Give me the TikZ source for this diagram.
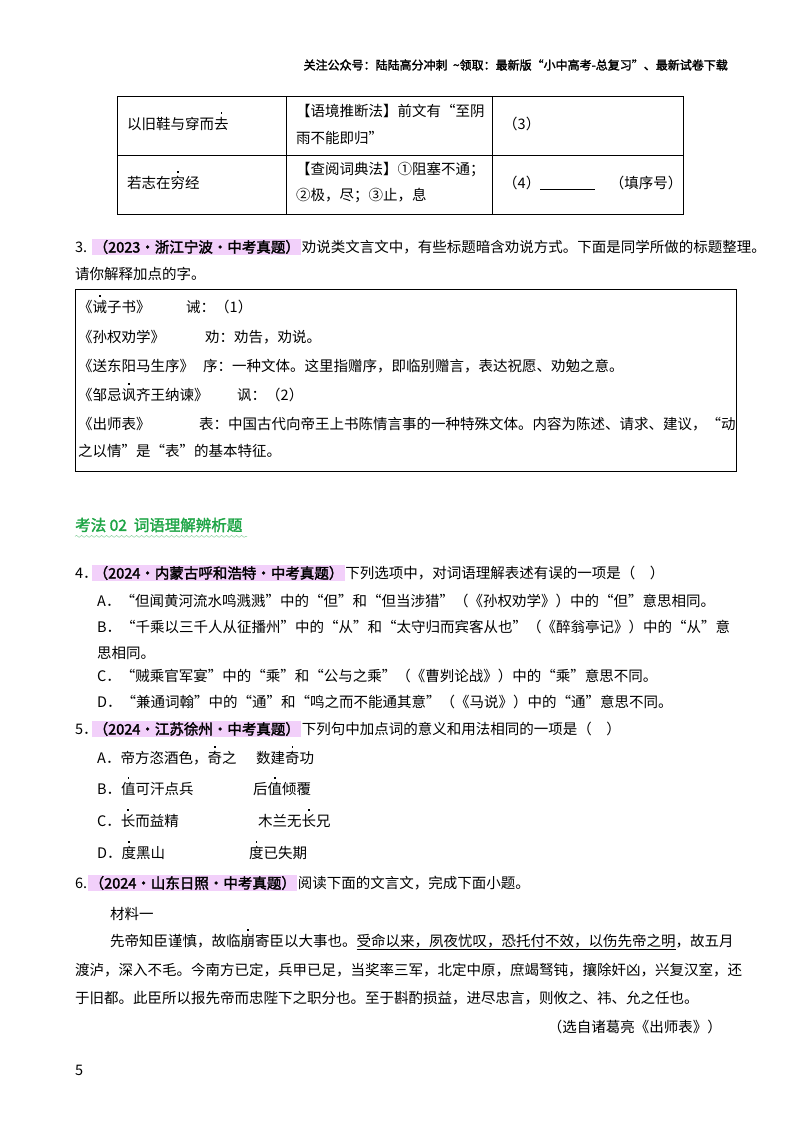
\documentclass[tikz,border=0pt]{standalone}
\usepackage{fontspec}
\setmainfont{Noto Sans CJK SC}[AutoFakeBold=2]
\usetikzlibrary{decorations.pathmorphing}
\definecolor{hlc}{RGB}{242,208,250}
\definecolor{grn}{RGB}{30,165,70}
\newcommand{\edot}[1]{\leavevmode\rlap{\raisebox{1.08em}[0pt][0pt]{\makebox[1em][c]{\rule{1.6pt}{1.6pt}}}}#1}
\begin{document}
\begin{tikzpicture}[x=1pt,y=-1pt,
  t/.style={anchor=west,inner sep=0pt,font=\fontsize{14.5}{16}\selectfont},
  hl/.style={anchor=west,inner sep=1.5pt,fill=hlc,font=\fontsize{14.5}{16}\selectfont\bfseries},
  cell/.style={draw,line width=0.9pt}]
\useasboundingbox (0,0) rectangle (800,1132);
\fill[white] (0,0) rectangle (800,1132);
% header
\node[anchor=east,inner sep=0pt,font=\fontsize{12}{13}\selectfont\bfseries] (hdr) at (728,65) {关注公众号：陆陆高分冲刺\ \ \~{}领取：最新版“小中高考-总复习”、最新试卷下载};
% table
\draw[cell] (117,96) rectangle (683,214);
\draw[cell] (117,155) -- (683,155);
\draw[cell] (286,96) -- (286,214);
\draw[cell] (492,96) -- (492,214);
\node[t] (r1a) at (127,124) {以旧鞋与穿而\edot{去}};
\node[t] (r1b) at (296,111) {【语境推断法】前文有“至阴};
\node[t] (r1c) at (296,138) {雨不能即归”};
\node[t] (r1d) at (503,124) {（3）};
\node[t] (r2a) at (127,183) {若志在\edot{穷}经};
\node[t] (r2b) at (296,170) {【查阅词典法】①阻塞不通；};
\node[t] (r2c) at (296,196) {②极，尽；③止，息};
\node[t] (r2d) at (503,183) {（4）\underline{\hspace{55pt}}\quad （填序号）};
% Q3
\node[t] (q3n) at (75,247) {3.};
\node[hl] (q3h) at (92,247) {（2023·浙江宁波·中考真题）};
\node[t] (q3t) at (q3h.east) {劝说类文言文中，有些标题暗含劝说方式。下面是同学所做的标题整理。};
\node[t] (q3l) at (75,274) {请你解释加点的字。};
\draw[line width=0.9pt] (75,289) rectangle (736,471);
\node[t] (b1) at (78,307) {《\edot{诫}子书》};
\node[t] (b1r) at (186,307) {诫：（1）};
\node[t] (b2) at (78,337) {《孙权劝学》};
\node[t] (b2r) at (205,337) {劝：劝告，劝说。};
\node[t] (b3) at (78,366) {《送东阳马生序》};
\node[t] (b3r) at (203,366) {序：一种文体。这里指赠序，即临别赠言，表达祝愿、劝勉之意。};
\node[t] (b4) at (78,395) {《邹忌\edot{讽}齐王纳谏》};
\node[t] (b4r) at (237,395) {讽：（2）};
\node[t] (b5) at (78,424) {《出师表》};
\node[t] (b5r) at (199,424) {表：中国古代向帝王上书陈情言事的一种特殊文体。内容为陈述、请求、建议，“动};
\node[t] (b6) at (78,451) {之以情”是“表”的基本特征。};
% heading
\node[t,font=\fontsize{15.5}{18}\selectfont\bfseries,text=grn] (h2) at (75,525) {考法 02\ \ 词语理解辨析题};
\draw[grn!60,decorate,decoration={snake,amplitude=1pt,segment length=5pt}] (h2.south west)++(0,4) -- ++(172,0);
% Q4
\node[t] (q4n) at (75,573) {4．};
\node[hl] (q4h) at (92,573) {（2024·内蒙古呼和浩特·中考真题）};
\node[t] (q4t) at (q4h.east) {下列选项中，对词语理解表述有误的一项是（\quad ）};
\node[t] (q4a) at (97,601) {A．“但闻黄河流水鸣溅溅”中的“但”和“但当涉猎”（《孙权劝学》）中的“但”意思相同。};
\node[t] (q4b) at (97,627) {B．“千乘以三千人从征播州”中的“从”和“太守归而宾客从也”（《醉翁亭记》）中的“从”意};
\node[t] (q4b2) at (97,653) {思相同。};
\node[t] (q4c) at (97,676) {C．“贼乘官军宴”中的“乘”和“公与之乘”（《曹刿论战》）中的“乘”意思不同。};
\node[t] (q4d) at (97,702) {D．“兼通词翰”中的“通”和“鸣之而不能通其意”（《马说》）中的“通”意思不同。};
% Q5
\node[t] (q5n) at (75,729) {5．};
\node[hl] (q5h) at (92,729) {（2024·江苏徐州·中考真题）};
\node[t] (q5t) at (q5h.east) {下列句中加点词的意义和用法相同的一项是（\quad ）};
\node[t] (q5a) at (97,758) {A．帝方恣酒色，\edot{奇}之};
\node[t] (q5a2) at (256,758) {数建\edot{奇}功};
\node[t] (q5b) at (97,789) {B．\edot{值}可汗点兵};
\node[t] (q5b2) at (253,789) {后\edot{值}倾覆};
\node[t] (q5c) at (97,821) {C．\edot{长}而益精};
\node[t] (q5c2) at (258,821) {木兰无\edot{长}兄};
\node[t] (q5d) at (97,853) {D．\edot{度}黑山};
\node[t] (q5d2) at (249,853) {\edot{度}已失期};
% Q6
\node[t] (q6n) at (75,883) {6.};
\node[hl] (q6h) at (88,883) {（2024·山东日照·中考真题）};
\node[t] (q6t) at (q6h.east) {阅读下面的文言文，完成下面小题。};
\node[t] (m1) at (110,914) {材料一};
\node[t] (p1) at (110,942) {先帝知臣谨慎，故临\edot{崩}寄臣以大事也。\underline{受命以来，夙夜忧叹，恐托付不效，以伤先帝之明}，故五月};
\node[t] (p2) at (75,970) {渡泸，深入不毛。今南方已定，兵甲已足，当奖率三军，北定中原，庶竭驽钝，攘除奸凶，兴复汉室，还};
\node[t] (p3) at (75,998) {于旧都。此臣所以报先帝而忠陛下之职分也。至于斟酌损益，进尽忠言，则攸之、祎、允之任也。};
\node[t,anchor=east] (src) at (722,1027) {（选自诸葛亮《出师表》）};
\node[t] (pg) at (75,1070) {5};
\end{tikzpicture}
\end{document}
